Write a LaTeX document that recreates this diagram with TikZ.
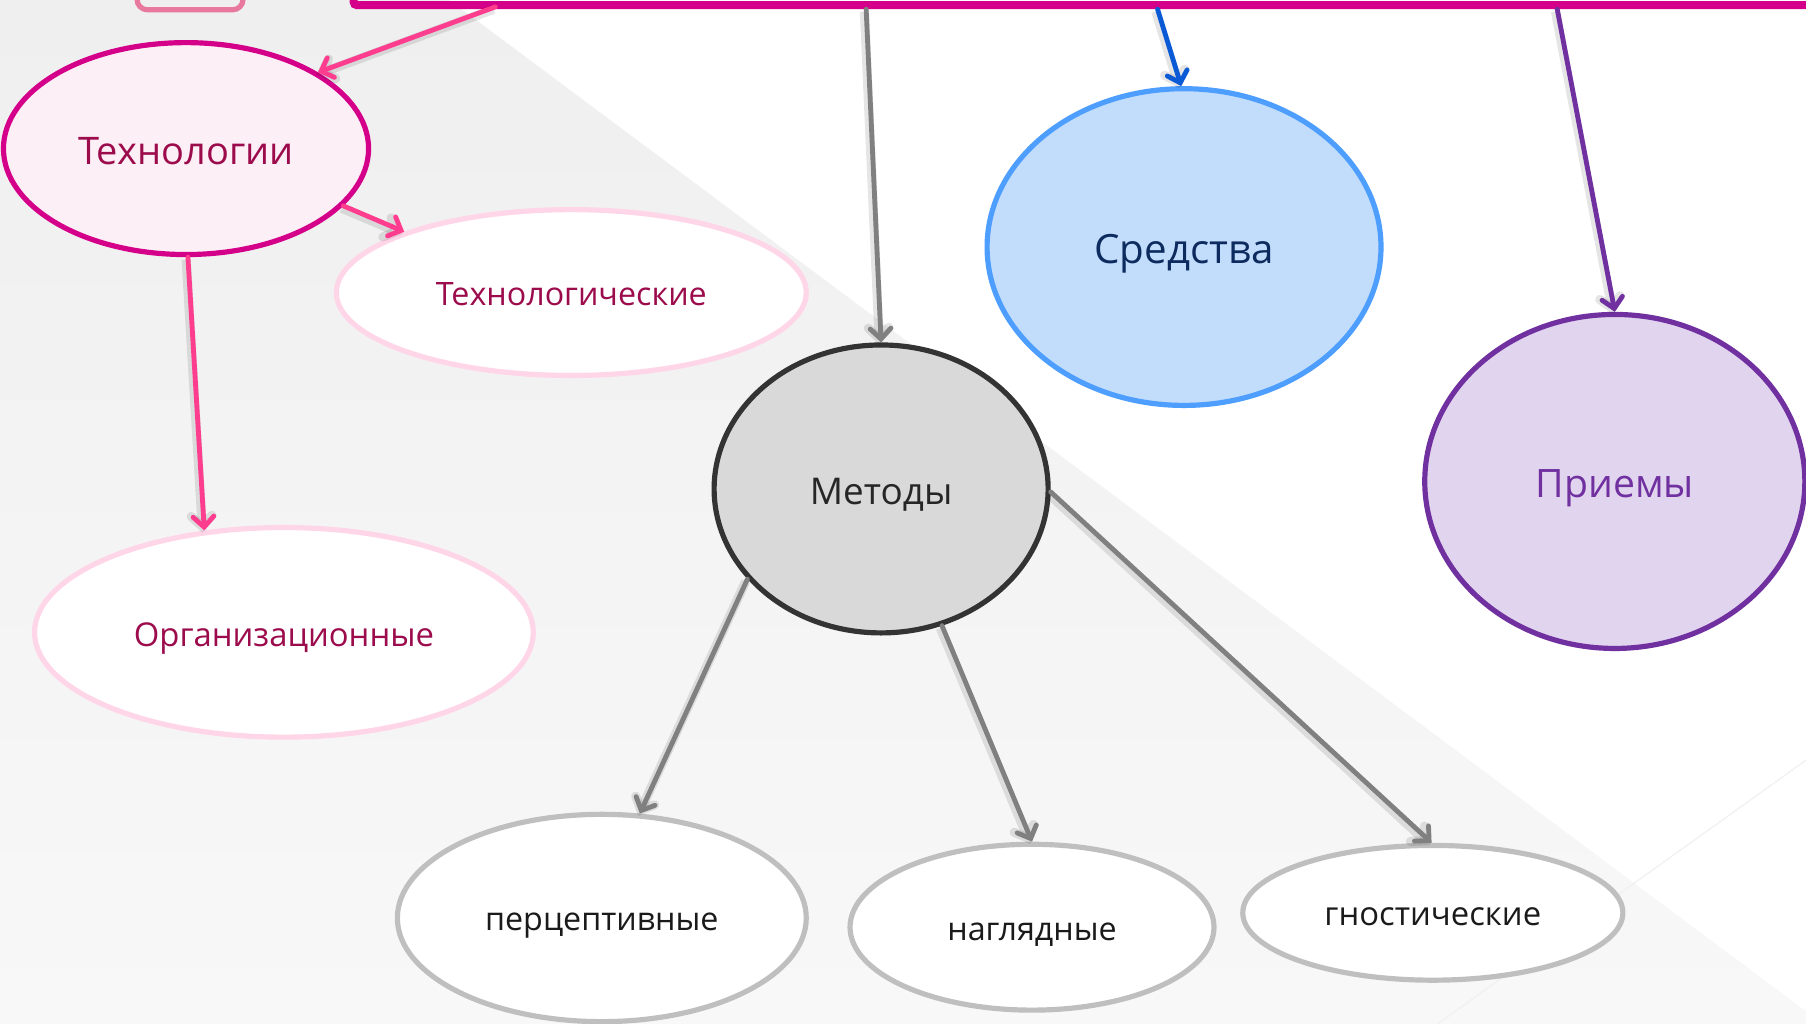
\documentclass[tikz,border=0pt]{standalone}
\usepackage{fontspec}
\setmainfont{Open Sans}
\usetikzlibrary{arrows.meta,shapes.geometric}
\definecolor{bgtop}{HTML}{EFEFEF}
\definecolor{bgbot}{HTML}{F8F8F8}
\definecolor{magb}{HTML}{D4008A}
\definecolor{pinkarr}{HTML}{FF3D8E}
\definecolor{techfill}{HTML}{FDEFF6}
\definecolor{techtxt}{HTML}{9C0B4C}
\definecolor{lightpink}{HTML}{FFD6E8}
\definecolor{topbox}{HTML}{E8789E}
\definecolor{metfill}{HTML}{D9D9D9}
\definecolor{metb}{HTML}{333333}
\definecolor{mettxt}{HTML}{262626}
\definecolor{grayarr}{HTML}{808080}
\definecolor{sredfill}{HTML}{C2DDFC}
\definecolor{sredb}{HTML}{4D9EFF}
\definecolor{sredtxt}{HTML}{0D2B5E}
\definecolor{bluearr}{HTML}{0A5AD6}
\definecolor{priefill}{HTML}{E1D4EE}
\definecolor{prieb}{HTML}{7030A0}
\definecolor{lowb}{HTML}{BFBFBF}
\definecolor{lowtxt}{HTML}{1A1A1A}
\tikzset{
  oval/.style={ellipse, inner sep=0pt, line width=4.5pt, text depth=0pt},
  arr/.style={line width=4.2pt, line cap=round,
    -{Straight Barb[length=9pt,width=18pt,line cap=round]},
    preaction={draw=black, opacity=0.10, line width=8pt,
      transform canvas={shift={(-1.5pt,-2pt)}}}},
}
\begin{document}
\begin{tikzpicture}[x=1pt,y=-1pt]
\useasboundingbox (0,0) rectangle (1568,889);
\clip (0,0) rectangle (1568,889);
% background
\fill[white] (0,0) rectangle (1568,889);
\shade[top color=bgtop,bottom color=bgbot] (0,0) -- (390,0) -- (1568,878) -- (1568,889) -- (0,889) -- cycle;
\draw[black!6, line width=1pt] (1248,889) -- (1568,660);
% top frames
\draw[topbox, line width=4.5pt, rounded corners=9pt] (119,-30) rectangle (211,8.5);
\draw[magb, line width=7pt, rounded corners=3pt] (307,-40) rectangle (1640,4.5);
\coordinate (t1) at (430,6);
\coordinate (t2) at (752,8);
\coordinate (t3) at (1005,8);
\coordinate (t4) at (1352,8);
% nodes
\node[oval, draw=magb, fill=techfill, minimum width=317pt, minimum height=184pt,
  text=techtxt, font=\fontsize{33}{40}\selectfont] (tech) at (161.5,129) {\raisebox{-3.5pt}{Технологии}};
\node[oval, draw=lightpink, fill=white, minimum width=408pt, minimum height=144pt,
  text=techtxt, font=\fontsize{28}{34}\selectfont] (techl) at (496,254) {\raisebox{-2.5pt}{Технологические}};
\node[oval, draw=lightpink, fill=white, minimum width=433pt, minimum height=182pt,
  text=techtxt, font=\fontsize{28.5}{34}\selectfont] (org) at (246.5,549) {\raisebox{-3.5pt}{Организационные}};
\node[oval, draw=metb, fill=metfill, minimum width=290pt, minimum height=250pt,
  text=mettxt, font=\fontsize{32}{38}\selectfont] (met) at (765,424.5) {\raisebox{-4pt}{Методы}};
\node[oval, draw=sredb, fill=sredfill, minimum width=342pt, minimum height=275pt,
  text=sredtxt, font=\fontsize{35}{42}\selectfont] (sred) at (1028,214.5) {\raisebox{-3.5pt}{Средства}};
\node[oval, draw=prieb, fill=priefill, minimum width=330pt, minimum height=290pt,
  text=prieb, font=\fontsize{34}{40}\selectfont] (prie) at (1402,418) {\raisebox{-3.5pt}{Приемы}};
\node[oval, draw=lowb, fill=white, minimum width=355pt, minimum height=180pt,
  text=lowtxt, font=\fontsize{28}{34}\selectfont] (perc) at (522.5,797) {\raisebox{-7pt}{перцептивные}};
\node[oval, draw=lowb, fill=white, minimum width=316pt, minimum height=144pt,
  text=lowtxt, font=\fontsize{28}{34}\selectfont] (nagl) at (896,805) {\raisebox{-7pt}{наглядные}};
\node[oval, draw=lowb, fill=white, minimum width=330pt, minimum height=117pt,
  text=lowtxt, font=\fontsize{28.5}{34}\selectfont] (gnos) at (1244,792.5) {\raisebox{-7pt}{гностические}};
% connectors
\draw[arr, pinkarr] (t1) -- (tech.30);
\draw[arr, pinkarr] (tech.-20) -- (techl.160);
\draw[arr, pinkarr] (tech.-89) -- (org.128);
\draw[arr, grayarr] (t2) -- (met.90);
\draw[arr, bluearr] (t3) -- (sred.91);
\draw[arr, prieb] (t4) -- (prie.90);
\draw[arr, grayarr] (met.214) -- (perc.70);
\draw[arr, grayarr] (met.-66) -- (nagl.90);
\draw[arr, grayarr] (met.-1) -- (gnos.91);
\end{tikzpicture}
\end{document}
